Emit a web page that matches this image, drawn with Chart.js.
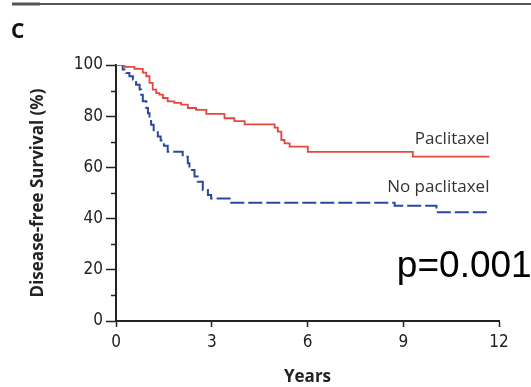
<!DOCTYPE html>
<html>
<head>
<meta charset="utf-8">
<script src="https://cdn.jsdelivr.net/npm/chart.js@4"></script>
<style>
  html, body { margin: 0; padding: 0; background: #fff; }
  #wrap { width: 531px; height: 387px; position: relative; }
</style>
</head>
<body>
<div id="wrap"><canvas id="kmChart"></canvas></div>
<script>
// Kaplan-Meier disease-free survival, years vs %
var paclitaxelYears = [0, 0.27, 0.58, 0.84, 0.95, 1.05, 1.15, 1.26, 1.36, 1.47, 1.62, 1.83, 2.04, 2.25, 2.51, 2.83, 3.4, 3.71, 4.03, 4.97, 5.07, 5.18, 5.28, 5.44, 6.01, 9.3, 11.7];
var paclitaxelSurv  = [100, 99.3, 98.5, 97, 95.6, 93, 90.4, 89, 88.4, 87.1, 85.8, 85.2, 84.5, 83.2, 82.5, 80.9, 79.2, 78.1, 76.8, 75.5, 74, 70.7, 69.4, 68.1, 66.1, 64.2, 64.2];

var noPaclitaxelYears = [0, 0.21, 0.32, 0.42, 0.53, 0.63, 0.74, 0.79, 0.84, 0.95, 1.0, 1.05, 1.1, 1.18, 1.31, 1.4, 1.5, 1.62, 2.09, 2.25, 2.3, 2.46, 2.56, 2.72, 2.88, 2.98, 3.56, 8.73, 10.04, 11.66];
var noPaclitaxelSurv  = [100, 98.2, 96.9, 95.6, 94.3, 92.3, 90.4, 88.4, 85.8, 83.2, 81.2, 79.3, 76.7, 74.5, 72.1, 70.5, 68.5, 66.1, 64.2, 61.6, 59, 56.4, 54.4, 51.2, 49.2, 47.9, 46.2, 45, 42.5, 42.5];

var curveLabels = ['Paclitaxel', 'No paclitaxel'];
var pValueText = 'p=0.001';

function toPoints(xs, ys) {
    return xs.map(function (x, i) { return { x: x, y: ys[i] }; });
}

// extra drawing: minor y ticks, curve names, p value, panel letter and rule
var extras = {
    id: 'extras',
    afterDraw: function (chart) {
        var ctx = chart.ctx;
        var xs = chart.scales.x, ys = chart.scales.y;
        var axisX = chart.chartArea.left;
        ctx.save();

        // minor ticks every 10 %
        ctx.strokeStyle = '#222';
        ctx.lineWidth = 1.5;
        [10, 30, 50, 70, 90].forEach(function (v) {
            var y = Math.round(ys.getPixelForValue(v)) + 0.5;
            ctx.beginPath();
            ctx.moveTo(axisX - 5, y);
            ctx.lineTo(axisX, y);
            ctx.stroke();
        });

        // curve names
        ctx.fillStyle = '#333';
        ctx.font = '17px "Open Sans"';
        ctx.textAlign = 'right';
        ctx.textBaseline = 'alphabetic';
        ctx.fillText(curveLabels[0], xs.getPixelForValue(11.7), ys.getPixelForValue(69));
        ctx.fillText(curveLabels[1], xs.getPixelForValue(11.7), ys.getPixelForValue(50.5));

        // p value
        ctx.fillStyle = '#000';
        ctx.font = '37px "Liberation Sans"';
        ctx.textAlign = 'left';
        ctx.fillText(pValueText, xs.getPixelForValue(8.8), ys.getPixelForValue(17.2));

        // panel letter and top rule
        ctx.fillStyle = '#111';
        ctx.font = 'bold 21px "Open Sans"';
        ctx.fillText('C', 11, 38);
        ctx.strokeStyle = '#555';
        ctx.lineWidth = 2;
        ctx.beginPath();
        ctx.moveTo(12, 4);
        ctx.lineTo(531, 4);
        ctx.stroke();
        ctx.lineWidth = 3;
        ctx.beginPath();
        ctx.moveTo(12, 4);
        ctx.lineTo(40, 4);
        ctx.stroke();

        ctx.restore();
    }
};

var tickFont = { family: '"DejaVu Sans Condensed", "Liberation Sans", sans-serif', size: 17 };
var titleFont = { family: '"Open Sans"', size: 17, weight: 'bold' };

var ctx = document.getElementById('kmChart').getContext('2d');
var kmChart = new Chart(ctx, {
    type: 'line',
    data: {
        datasets: [{
            label: curveLabels[0],
            data: toPoints(paclitaxelYears, paclitaxelSurv),
            borderColor: 'rgb(226, 72, 62)',
            borderWidth: 1.8,
            stepped: 'before',
            pointRadius: 0,
            fill: false
        }, {
            label: curveLabels[1],
            data: toPoints(noPaclitaxelYears, noPaclitaxelSurv),
            borderColor: 'rgb(42, 72, 160)',
            borderWidth: 2,
            borderDash: [14, 4],
            stepped: 'before',
            pointRadius: 0,
            fill: false
        }]
    },
    options: {
        responsive: true,
        maintainAspectRatio: false,
        animation: false,
        layout: { padding: { top: 65, right: 32, left: 0, bottom: 0 } },
        plugins: {
            legend: { display: false },
            tooltip: { enabled: false }
        },
        scales: {
            x: {
                type: 'linear',
                min: 0,
                max: 12,
                ticks: { stepSize: 3, color: '#222', font: tickFont, padding: 5 },
                grid: { drawOnChartArea: false, tickLength: 6, tickColor: '#222', tickWidth: 1.5 },
                border: { color: '#222', width: 2 },
                title: { display: true, text: 'Years', color: '#222', font: titleFont, padding: { top: 0, bottom: 0 } },
                afterFit: function (scale) { scale.height = 66; }
            },
            y: {
                min: 0,
                max: 100,
                ticks: { stepSize: 20, color: '#222', font: tickFont, padding: 3 },
                grid: { drawOnChartArea: false, tickLength: 10, tickColor: '#222', tickWidth: 1.5 },
                border: { color: '#222', width: 2 },
                title: { display: true, text: 'Disease-free Survival (%)', color: '#222', font: titleFont, padding: { top: 28, bottom: 0 } },
                afterFit: function (scale) { scale.width = 116; }
            }
        }
    },
    plugins: [extras]
});
</script>
</body>
</html>
